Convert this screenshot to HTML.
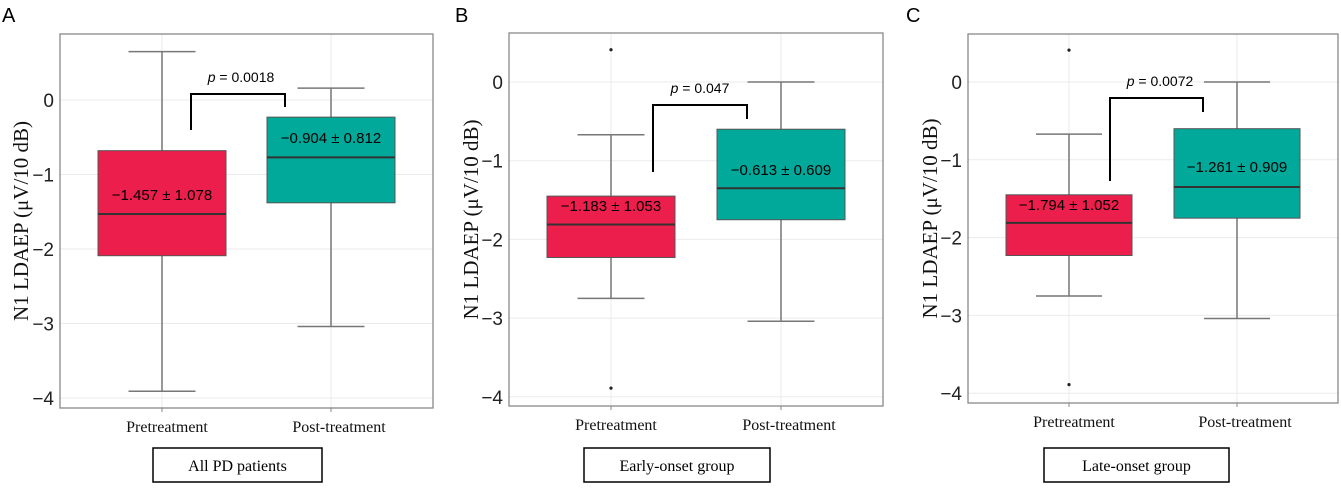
<!DOCTYPE html>
<html><head><meta charset="utf-8"><style>
body{margin:0;background:#fff;width:1341px;height:484px;overflow:hidden}
svg text{font-family:"Liberation Sans",sans-serif}
.serif{font-family:"Liberation Serif",serif}
</style></head><body>
<svg id="c" width="1341" height="484" xmlns="http://www.w3.org/2000/svg"></svg>
<script>
const categories = ["Pretreatment","Post-treatment"];
const panelLetters = ["A","B","C"];
const captions = ["All PD patients","Early-onset group","Late-onset group"];
const yTicks = [0,-1,-2,-3,-4];
// per panel: [pre, post] each: [whiskerLow, Q1, median, Q3, whiskerHigh]
const statsA = [[-3.91,-2.09,-1.53,-0.68,0.65],[-3.04,-1.38,-0.77,-0.23,0.16]];
const statsB = [[-2.75,-2.23,-1.81,-1.45,-0.67],[-3.04,-1.75,-1.35,-0.60,0.0]];
const statsC = [[-2.75,-2.23,-1.81,-1.45,-0.67],[-3.04,-1.75,-1.35,-0.60,0.0]];
const outliersA = [[],[]];
const outliersB = [[0.41,-3.89],[]];
const outliersC = [[0.41,-3.89],[]];
const meanLabelsA = ["\u22121.457 \u00b1 1.078","\u22120.904 \u00b1 0.812"];
const meanLabelsB = ["\u22121.183 \u00b1 1.053","\u22120.613 \u00b1 0.609"];
const meanLabelsC = ["\u22121.794 \u00b1 1.052","\u22121.261 \u00b1 0.909"];
const pValues = ["0.0018","0.047","0.0072"];

const layouts = [
 {x0:60,x1:433,y0:34,y1:408,yZero:100,unit:74.5,cx:[162,331],bw:128,cap:67,lab:[200,143],br:[191,130,94,285,107],pt:[241,77],capt:[153,322],letterX:2,titleX:20},
 {x0:509,x1:883,y0:33,y1:406,yZero:82,unit:78.7,cx:[611,781],bw:128,cap:67,lab:[211,175],br:[653,172,105,747,119],pt:[700,88],capt:[584,770],letterX:455,titleX:470},
 {x0:968,x1:1338,y0:34,y1:403,yZero:82,unit:77.8,cx:[1069,1237],bw:126,cap:66,lab:[210,172],br:[1110,181,98,1203,112],pt:[1160,81],capt:[1044,1229],letterX:906,titleX:929}
];
const allStats=[statsA,statsB,statsC], allOut=[outliersA,outliersB,outliersC], allLabels=[meanLabelsA,meanLabelsB,meanLabelsC];
const colors=["#ec1e4c","#00a99a"];
const NS="http://www.w3.org/2000/svg", svg=document.getElementById('c');
function mk(t,a,p){const e=document.createElementNS(NS,t);for(const k in a)e.setAttribute(k,a[k]);(p||svg).appendChild(e);return e;}

layouts.forEach((L,pi)=>{
 const g=mk('g',{});
 
 
 const y=v=>L.yZero - v*L.unit;
 const lt=mk('text',{x:L.letterX,y:22,'font-size':20,fill:'#000'},g);lt.textContent=panelLetters[pi];
 
 
 yTicks.forEach(t=>{
  const gl=mk('line',{x1:L.x0,x2:L.x1,y1:y(t),y2:y(t),stroke:'#ebebeb','stroke-width':1},g);
  
  
  const tl=mk('text',{x:L.x0-6,y:y(t)+7,'font-size':19,'text-anchor':'end',fill:'#222'},g);
  tl.textContent=(t<0?'\u2212':'')+Math.abs(t);
  
  
 });
 L.cx.forEach(c=>{mk('line',{x1:c,x2:c,y1:L.y0,y2:L.y1,stroke:'#ebebeb'},g);mk('line',{x1:c,x2:c,y1:L.y1,y2:L.y1+4,stroke:'#888'},g);});
 const fr=mk('rect',{x:L.x0,y:L.y0,width:L.x1-L.x0,height:L.y1-L.y0,fill:'none',stroke:'#888','stroke-width':1.3},g);
 
 
 const yt=mk('text',{x:0,y:0,'font-size':21,'text-anchor':'middle',class:'serif',fill:'#111',transform:`translate(${L.titleX+8},${(L.y0+L.y1)/2}) rotate(-90)`},g);
 yt.textContent='N1 LDAEP (\u03bcV/10 dB)';
 
 
 allStats[pi].forEach((s,ci)=>{
  const c=L.cx[ci];
  const w1=mk('line',{x1:c,x2:c,y1:y(s[4]),y2:y(s[0]),stroke:'#777','stroke-width':1.5},g);
  
  
  mk('line',{x1:c-L.cap/2,x2:c+L.cap/2,y1:y(s[4]),y2:y(s[4]),stroke:'#777','stroke-width':1.5},g);
  mk('line',{x1:c-L.cap/2,x2:c+L.cap/2,y1:y(s[0]),y2:y(s[0]),stroke:'#777','stroke-width':1.5},g);
  const b=mk('rect',{x:c-L.bw/2,y:y(s[3]),width:L.bw,height:y(s[1])-y(s[3]),fill:colors[ci],stroke:'#555','stroke-width':1},g);
  
  
  const m=mk('line',{x1:c-L.bw/2,x2:c+L.bw/2,y1:y(s[2]),y2:y(s[2]),stroke:'#333','stroke-width':2},g);
  
  
  allOut[pi][ci].forEach(o=>{const d=mk('circle',{cx:c,cy:y(o),r:1.6,fill:'#222'},g);
   
   });
  const ml=mk('text',{x:c,y:L.lab[ci],'font-size':15,'text-anchor':'middle',fill:'#000'},g);
  ml.textContent=allLabels[pi][ci];
  
  
  const cl=mk('text',{x:c+(ci?8:5),y:L.y1+24,'font-size':16,'text-anchor':'middle',class:'serif',fill:'#111'},g);
  cl.textContent=categories[ci];
  
  
 });
 const br=L.br;
 const bp=mk('polyline',{points:`${br[0]},${br[1]} ${br[0]},${br[2]} ${br[3]},${br[2]} ${br[3]},${br[4]}`,fill:'none',stroke:'#000','stroke-width':2},g);
 
 
 const pt=mk('text',{x:L.pt[0],y:L.pt[1]+5,'font-size':14,'text-anchor':'middle',fill:'#000'},g);
 pt.innerHTML='<tspan font-style="italic">p</tspan> = '+pValues[pi];
 
 
 const cb=mk('rect',{x:L.capt[0],y:448,width:L.capt[1]-L.capt[0],height:34,fill:'#fff',stroke:'#000','stroke-width':1.5},g);
 
 
 const ct=mk('text',{x:(L.capt[0]+L.capt[1])/2,y:471,'font-size':16,'text-anchor':'middle',class:'serif',fill:'#000'},g);
 ct.textContent=captions[pi];
 
 
});
</script>
</body></html>
